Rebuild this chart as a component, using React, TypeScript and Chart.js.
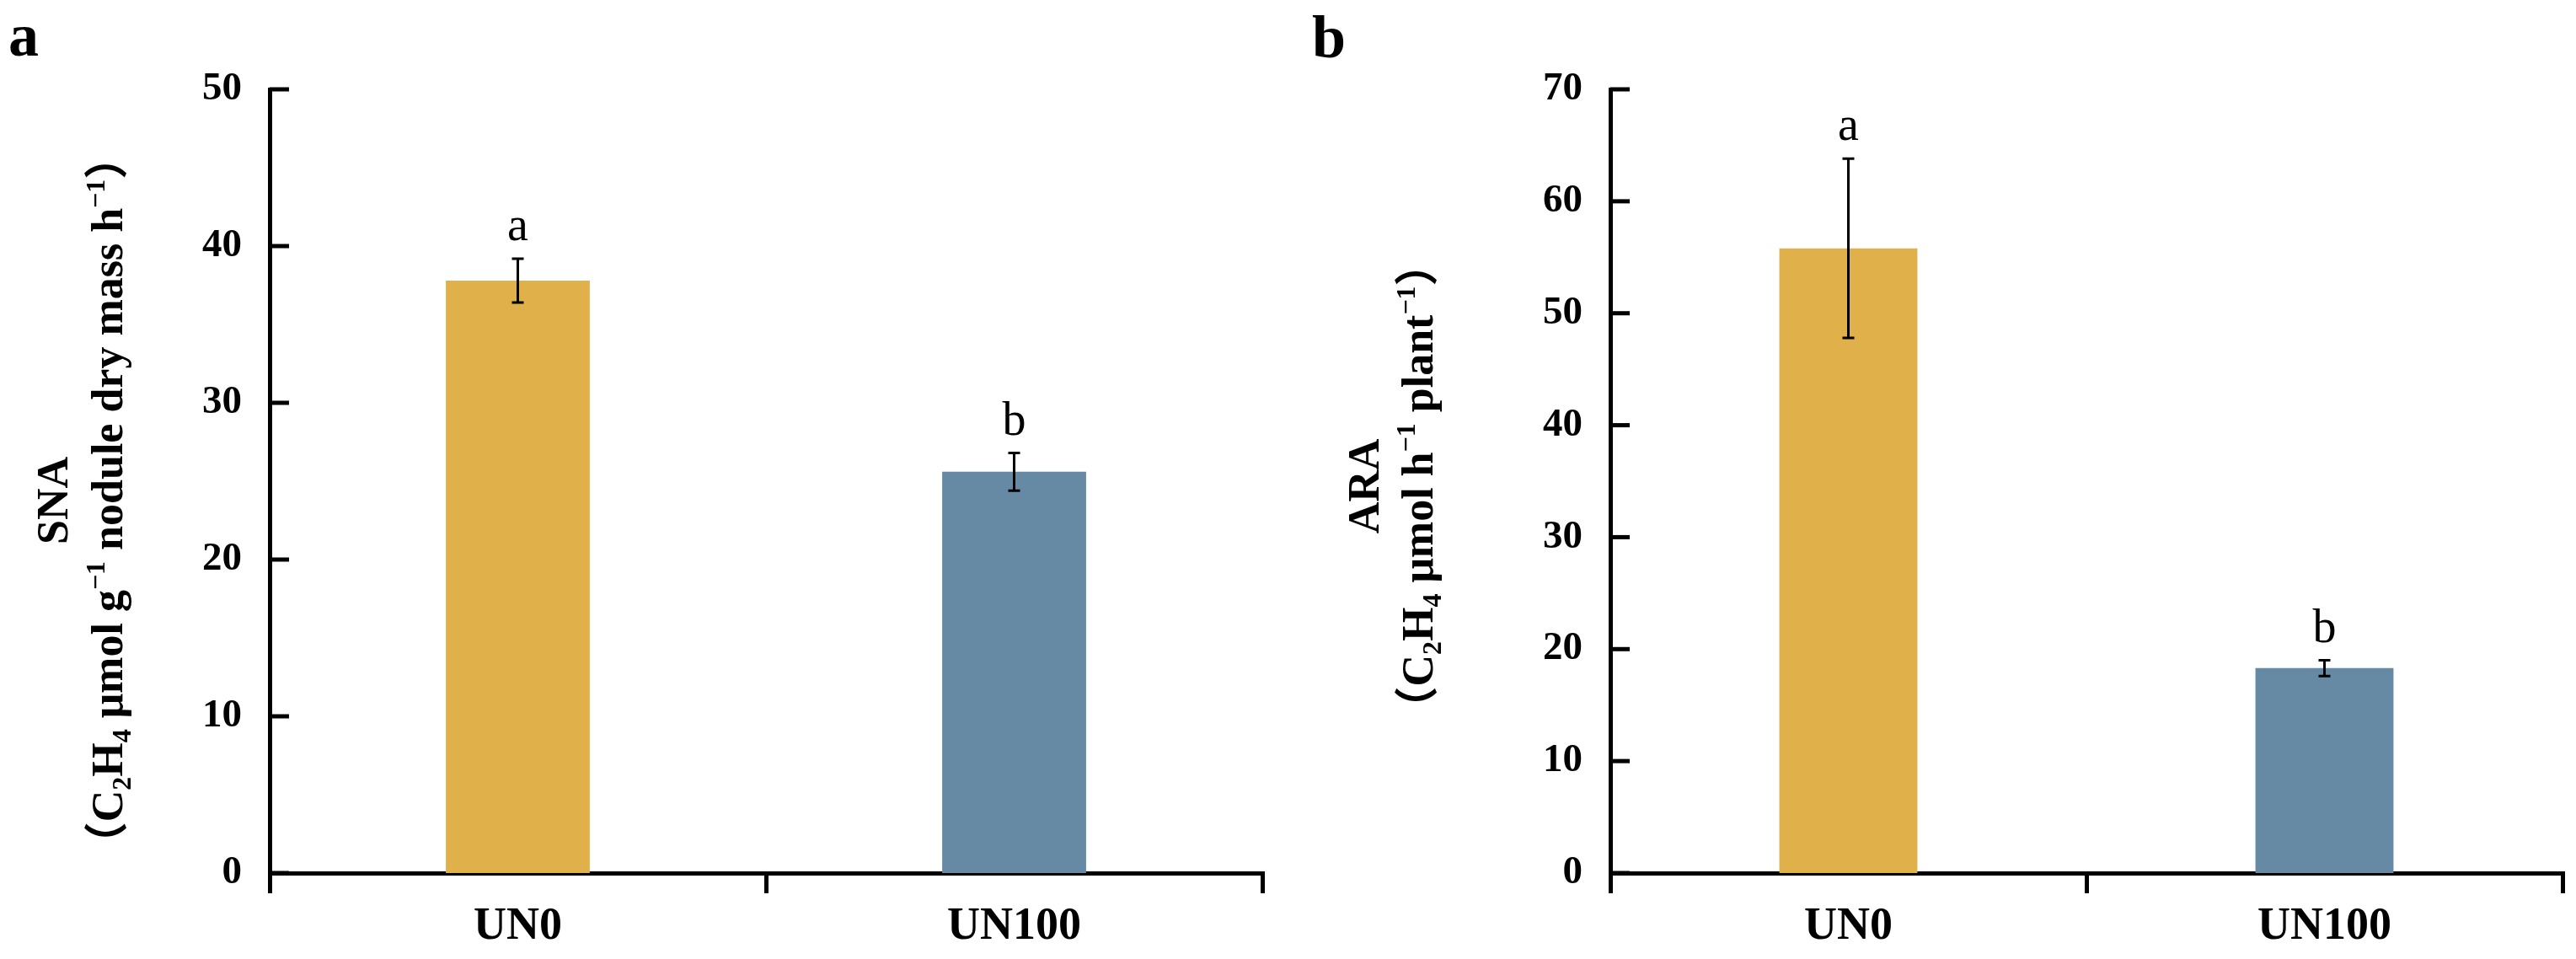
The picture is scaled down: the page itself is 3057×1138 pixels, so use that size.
import React, { useEffect, useRef } from 'react';
import { Chart, registerables } from 'chart.js';

Chart.register(...registerables);

// ---------- data ----------
const categories = ['UN0', 'UN100'];
const barColors = ['#E0B14A', '#6689A4'];

const snaValues = [37.8, 25.6];
const snaErrors = [1.4, 1.2];
const snaLetters = ['a', 'b'];
const snaTickValues = [0, 10, 20, 30, 40, 50];

const araValues = [55.8, 18.3];
const araErrors = [8.0, 0.7];
const araLetters = ['a', 'b'];
const araTickValues = [0, 10, 20, 30, 40, 50, 60, 70];

const snaTitle = 'SNA';
const snaUnit = [
  { t: '（', k: '' },
  { t: 'C', k: '' },
  { t: '2', k: 'sub' },
  { t: 'H', k: '' },
  { t: '4', k: 'sub' },
  { t: ' μmol g', k: '' },
  { t: '−1', k: 'sup' },
  { t: ' nodule dry mass h', k: '' },
  { t: '−1', k: 'sup' },
  { t: '）', k: '' },
];

const araTitle = 'ARA';
const araUnit = [
  { t: '（', k: '' },
  { t: 'C', k: '' },
  { t: '2', k: 'sub' },
  { t: 'H', k: '' },
  { t: '4', k: 'sub' },
  { t: ' μmol h', k: '' },
  { t: '−1', k: 'sup' },
  { t: ' plant', k: '' },
  { t: '−1', k: 'sup' },
  { t: '）', k: '' },
];

const SERIF = '"Liberation Serif", "Times New Roman", "Noto Sans CJK SC", serif';

function drawRich(ctx, segs, baseX, centerY, size) {
  ctx.save();
  ctx.translate(baseX, centerY);
  ctx.rotate(-Math.PI / 2);
  ctx.fillStyle = '#000';
  ctx.textBaseline = 'alphabetic';
  ctx.textAlign = 'left';
  const fontFor = (k) => `bold ${k ? Math.round(size * 0.62) : size}px ${SERIF}`;
  let total = 0;
  const widths = segs.map((s) => {
    ctx.font = fontFor(s.k);
    const w = ctx.measureText(s.t).width;
    total += w;
    return w;
  });
  let x = -total / 2;
  segs.forEach((s, i) => {
    ctx.font = fontFor(s.k);
    const dy = s.k === 'sub' ? size * 0.2 : s.k === 'sup' ? -size * 0.4 : 0;
    ctx.fillText(s.t, x, dy);
    x += widths[i];
  });
  ctx.restore();
}

function makeDecor(cfg) {
  return {
    id: 'panelDecor',
    afterDatasetsDraw(chart) {
      const ctx = chart.ctx;
      const y = chart.scales.y;
      const meta = chart.getDatasetMeta(0);
      ctx.save();
      meta.data.forEach((bar, i) => {
        const v = cfg.values[i];
        const e = cfg.errors[i];
        const x = bar.x;
        const yt = y.getPixelForValue(v + e);
        const yb = y.getPixelForValue(v - e);
        ctx.strokeStyle = '#000';
        ctx.lineWidth = 3;
        ctx.beginPath();
        ctx.moveTo(x, yt);
        ctx.lineTo(x, yb);
        ctx.moveTo(x - 7, yt);
        ctx.lineTo(x + 7, yt);
        ctx.moveTo(x - 7, yb);
        ctx.lineTo(x + 7, yb);
        ctx.stroke();
        ctx.fillStyle = '#000';
        ctx.font = `56px ${SERIF}`;
        ctx.textAlign = 'center';
        ctx.textBaseline = 'alphabetic';
        ctx.fillText(cfg.letters[i], x, yt - 22);
      });
      ctx.restore();
    },
    afterDraw(chart) {
      const ctx = chart.ctx;
      const y = chart.scales.y;
      const left = chart.chartArea.left;
      ctx.save();
      ctx.strokeStyle = '#000';
      ctx.lineWidth = 5;
      y.ticks.forEach((t) => {
        const py = y.getPixelForValue(t.value);
        ctx.beginPath();
        ctx.moveTo(left, py);
        ctx.lineTo(left + 23, py);
        ctx.stroke();
      });
      ctx.restore();
      drawRich(ctx, [{ t: cfg.title, k: '' }], cfg.t1x, cfg.tcy, 52);
      drawRich(ctx, cfg.unit, cfg.t2x, cfg.tcy, 52);
      ctx.save();
      ctx.fillStyle = '#000';
      ctx.font = `bold 72px ${SERIF}`;
      ctx.textAlign = 'left';
      ctx.textBaseline = 'alphabetic';
      ctx.fillText(cfg.panel, cfg.px, cfg.py);
      ctx.restore();
    },
  };
}

function Panel({ left, width, height, values, errors, letters, ticks, title, unit, panel, axisLeft, padRight, t1x, t2x, tcy, px, py }) {
  const ref = useRef(null);
  useEffect(() => {
    const chart = new Chart(ref.current, {
      type: 'bar',
      data: {
        labels: categories,
        datasets: [
          {
            data: values,
            backgroundColor: barColors,
            borderWidth: 0,
            barPercentage: 0.29,
            categoryPercentage: 1,
          },
        ],
      },
      options: {
        responsive: false,
        animation: false,
        devicePixelRatio: 1,
        layout: { padding: { left: 0, right: padRight, top: 106, bottom: 0 } },
        plugins: { legend: { display: false }, tooltip: { enabled: false } },
        scales: {
          x: {
            z: 1,
            offset: true,
            grid: {
              display: true,
              offset: true,
              drawOnChartArea: false,
              drawTicks: true,
              tickLength: 24,
              lineWidth: 5,
              color: '#000',
            },
            border: { display: true, color: '#000', width: 5 },
            ticks: {
              color: '#000',
              padding: 8,
              font: { family: SERIF, size: 54, weight: 'bold' },
            },
            afterFit: (s) => {
              s.height = height - 1036;
            },
          },
          y: {
            z: 1,
            min: ticks[0],
            max: ticks[ticks.length - 1],
            grid: { display: false, drawTicks: false },
            border: { display: true, color: '#000', width: 5 },
            ticks: {
              stepSize: ticks[1] - ticks[0],
              color: '#000',
              padding: 33,
              font: { family: SERIF, size: 47, weight: 'bold' },
            },
            afterFit: (s) => {
              s.width = axisLeft;
            },
          },
        },
      },
      plugins: [makeDecor({ values, errors, letters, title, unit, panel, t1x, t2x, tcy, px, py })],
    });
    return () => chart.destroy();
  }, []);
  return (
    <canvas
      ref={ref}
      width={width}
      height={height}
      style={{ position: 'absolute', left, top: 0, width, height }}
    />
  );
}

export default function App() {
  return (
    <div style={{ position: 'absolute', left: 0, top: 0, width: 3057, height: 1138, background: '#fff', overflow: 'hidden' }}>
      <Panel
        left={0}
        width={1540}
        height={1138}
        values={snaValues}
        errors={snaErrors}
        letters={snaLetters}
        ticks={snaTickValues}
        title={snaTitle}
        unit={snaUnit}
        panel="a"
        axisLeft={320}
        padRight={42}
        t1x={80}
        t2x={145}
        tcy={594}
        px={10}
        py={66}
      />
      <Panel
        left={1540}
        width={1517}
        height={1138}
        values={araValues}
        errors={araErrors}
        letters={araLetters}
        ticks={araTickValues}
        title={araTitle}
        unit={araUnit}
        panel="b"
        axisLeft={371}
        padRight={16}
        t1x={96}
        t2x={160}
        tcy={577}
        px={17}
        py={68}
      />
    </div>
  );
}
